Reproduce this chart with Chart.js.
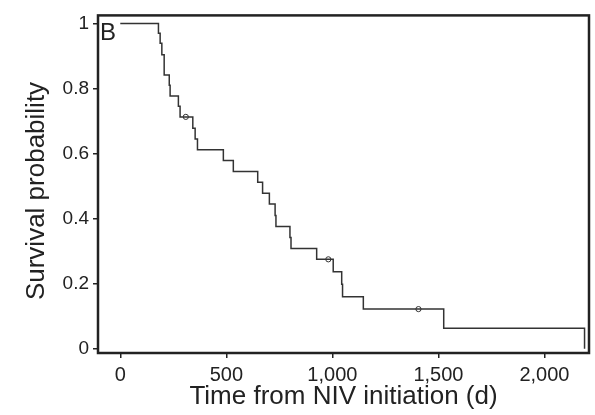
<!DOCTYPE html>
<html>
<head>
<meta charset="utf-8">
<script src="https://cdn.jsdelivr.net/npm/chart.js@4.4.1/dist/chart.umd.min.js"></script>
<style>
  html, body { margin: 0; padding: 0; background: #fff; }
  #wrap { width: 595px; height: 415px; }
</style>
</head>
<body>
<div id="wrap"><canvas id="km"></canvas></div>
<script>
// Kaplan-Meier steps (day of each drop, survival after it)
const eventDays = [0, 180, 188, 196, 207, 231, 235, 274, 282, 342, 353, 364, 486, 533, 648, 671, 703, 730, 734, 800, 805, 926, 1004, 1044, 1048, 1146, 1525, 2189];
const survival = [1, 0.97, 0.939, 0.904, 0.842, 0.81, 0.777, 0.746, 0.713, 0.678, 0.645, 0.612, 0.579, 0.545, 0.512, 0.478, 0.445, 0.41, 0.376, 0.342, 0.308, 0.275, 0.237, 0.198, 0.16, 0.122, 0.063, 0];

// censored patients (small circles)
const censorDays = [309, 981, 1406];
const censorSurvival = [0.713, 0.275, 0.122];

const xTicks = [0, 500, 1000, 1500, 2000];
const yTicks = [0, 0.2, 0.4, 0.6, 0.8, 1];

const ink = '#222';
const fontFamily = '"Liberation Sans", Arial, sans-serif';
Chart.defaults.font.family = fontFamily;
Chart.defaults.color = ink;

// box round the plot, panel letter and the y title (sits a bit below centre)
const framePlugin = {
  id: 'frame',
  afterDraw(chart) {
    const { ctx, chartArea: a } = chart;
    ctx.save();
    ctx.strokeStyle = ink;
    ctx.lineWidth = 2.5;
    ctx.strokeRect(a.left, a.top, a.right - a.left, a.bottom - a.top);
    ctx.fillStyle = ink;
    ctx.font = '24px ' + fontFamily;
    ctx.textBaseline = 'alphabetic';
    ctx.fillText('B', a.left + 2, a.top + 25);

    ctx.translate(37, 191);
    ctx.rotate(-Math.PI / 2);
    ctx.font = '26px ' + fontFamily;
    ctx.textAlign = 'center';
    ctx.textBaseline = 'middle';
    ctx.fillText('Survival probability', 0, 0);
    ctx.restore();
  }
};

const tickGrid = {
  drawOnChartArea: false,
  drawTicks: true,
  tickLength: 5,
  color: ink,
  lineWidth: 1.5
};

new Chart(document.getElementById('km'), {
  type: 'line',
  data: {
    datasets: [
      {
        data: eventDays.map((d, i) => ({ x: d, y: survival[i] })),
        stepped: true,
        borderColor: '#333',
        borderWidth: 1.5,
        pointRadius: 0,
        fill: false
      },
      {
        type: 'scatter',
        data: censorDays.map((d, i) => ({ x: d, y: censorSurvival[i] })),
        showLine: false,
        pointStyle: 'circle',
        pointRadius: 2.6,
        borderWidth: 1,
        borderColor: '#333',
        backgroundColor: 'rgba(255,255,255,0)'
      }
    ]
  },
  options: {
    responsive: true,
    maintainAspectRatio: false,
    animation: false,
    layout: { padding: { left: 0, top: 12, right: 6, bottom: 0 } },
    plugins: {
      legend: { display: false },
      tooltip: { enabled: false }
    },
    scales: {
      x: {
        type: 'linear',
        min: -105,
        max: 2210,
        border: { display: false },
        grid: tickGrid,
        afterBuildTicks: s => { s.ticks = xTicks.map(v => ({ value: v })); },
        afterFit: s => { s.height = 62; },
        ticks: {
          padding: 5,
          maxRotation: 0,
          font: { size: 20 },
          color: ink,
          callback: v => v.toLocaleString('en-US')
        },
        title: {
          display: true,
          text: 'Time from NIV initiation (d)',
          color: ink,
          font: { size: 26, lineHeight: 1.2 },
          padding: { top: 0, bottom: 3 }
        }
      },
      y: {
        type: 'linear',
        min: -0.013,
        max: 1.025,
        border: { display: false },
        grid: tickGrid,
        afterBuildTicks: s => { s.ticks = yTicks.map(v => ({ value: v })); },
        afterFit: s => { s.width = 98; },
        ticks: {
          padding: 4,
          font: { size: 19 },
          color: ink,
          callback: v => String(v)
        },
        title: { display: false }
      }
    }
  },
  plugins: [framePlugin]
});
</script>
</body>
</html>
